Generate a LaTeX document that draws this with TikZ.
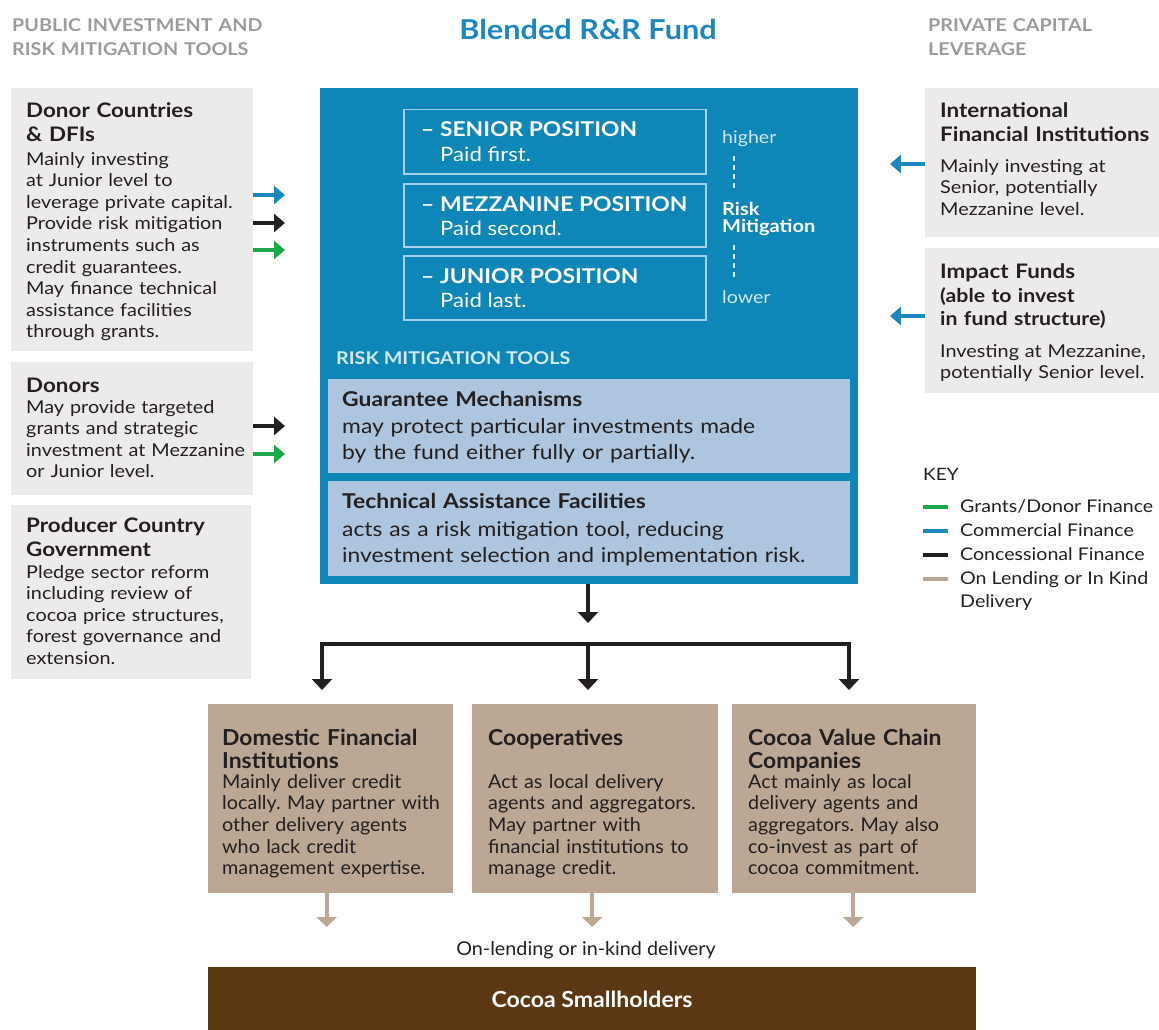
\documentclass[tikz,border=0pt]{standalone}
\usepackage{fontspec}
\setmainfont{Lato}[FakeStretch=1.12]
\newfontfamily\condf{Lato}[FakeStretch=1.04]
\usetikzlibrary{arrows.meta}
\frenchspacing
\definecolor{greybox}{HTML}{ECEBEA}
\definecolor{hdrgrey}{HTML}{9B9B9B}
\definecolor{fundblue}{HTML}{0E86B8}
\definecolor{titleblue}{HTML}{1A87C0}
\definecolor{lightblue}{HTML}{ADC5DE}
\definecolor{posline}{HTML}{A9D0E6}
\definecolor{paleblue}{HTML}{D2E8F3}
\definecolor{tanbox}{HTML}{BBA794}
\definecolor{tanarr}{HTML}{BBA794}
\definecolor{brown}{HTML}{5C3713}
\definecolor{darktxt}{HTML}{231F20}
\definecolor{arrblue}{HTML}{1B87BF}
\definecolor{arrgreen}{HTML}{19A84B}
\newcommand\HeadF{\fontsize{20}{24}\selectfont\bfseries}
\newcommand\SubHeadF{\fontsize{19}{23}\selectfont\bfseries}
\newcommand\BodyF{\fontsize{17.7}{21.6}\selectfont}
\newcommand\TopF{\fontsize{17.6}{24}\selectfont\bfseries}
\newcommand\CondHeadF{\condf\fontsize{22}{23}\selectfont\bfseries}
\newcommand\CondBodyF{\condf\fontsize{19}{21.7}\selectfont}
\newcommand\BlueBodyF{\fontsize{20.4}{26}\selectfont}
\begin{document}
\begin{tikzpicture}[x=1pt,y=-1pt,
  box/.style={rectangle, inner sep=0pt, anchor=north west, draw=none},
  txt/.style={anchor=base west, inner sep=0pt, align=left, text width=#1, text=darktxt},
  txt/.default=230pt,
  arrowbase/.style={line width=4pt},
  lblue/.style={arrowbase, draw=arrblue, -{Triangle[width=18pt,length=11pt]}},
  lblack/.style={arrowbase, draw=darktxt, -{Triangle[width=18pt,length=11pt]}},
  lgreen/.style={arrowbase, draw=arrgreen, -{Triangle[width=18pt,length=11pt]}},
  blkline/.style={line width=4pt, draw=darktxt},
  blkarrow/.style={line width=4pt, draw=darktxt, -{Triangle[width=20pt,length=11pt]}},
  tanarrow/.style={line width=4pt, draw=tanarr, -{Triangle[width=20pt,length=10pt]}},
  keyline/.style={line width=4pt}
]
\useasboundingbox (0,0) rectangle (1159,1030);

% ---------- headers ----------
\node[txt=300pt, text=hdrgrey, font=\TopF] (hdrL) at (12,32) {PUBLIC INVESTMENT AND\\RISK MITIGATION TOOLS};
\node[anchor=base, inner sep=0pt, text=titleblue, font=\fontsize{27.4}{30}\selectfont\bfseries] (title) at (588,40) {Blended R\&R Fund};
\node[txt=220pt, text=hdrgrey, font=\TopF] (hdrR) at (928,32) {PRIVATE CAPITAL\\LEVERAGE};

% ---------- left boxes ----------
\node[box, fill=greybox, minimum width=242pt, minimum height=263pt] (donorbox) at (11,88) {};
\node[txt, font=\HeadF] (donorhd) at (26,118) {Donor Countries\\\& DFIs};
\node[txt, font=\BodyF] (donorbd) at (26,165) {Mainly investing\\at Junior level to\\leverage private capital.\\Provide risk mitigation\\instruments such as\\credit guarantees.\\May finance technical\\assistance facilities\\through grants.};

\node[box, fill=greybox, minimum width=242pt, minimum height=133pt] (donors) at (11,362) {};
\node[txt, font=\HeadF] (donorshd) at (26,392) {Donors};
\node[txt, font=\BodyF] (donorsbd) at (26,413) {May provide targeted\\grants and strategic\\investment at Mezzanine\\or Junior level.};

\node[box, fill=greybox, minimum width=240pt, minimum height=174pt] (gov) at (11,505) {};
\node[txt, font=\HeadF] (govhd) at (26,532) {Producer Country\\Government};
\node[txt, font=\BodyF] (govbd) at (26,578) {Pledge sector reform\\including review of\\cocoa price structures,\\forest governance and\\extension.};

% ---------- right boxes ----------
\node[box, fill=greybox, minimum width=234pt, minimum height=149pt] (ifi) at (925,88) {};
\node[txt=218pt, font=\HeadF] (ifihd) at (940,118) {International\\Financial Institutions};
\node[txt=218pt, font=\BodyF] (ifibd) at (940,172) {Mainly investing at\\Senior, potentially\\Mezzanine level.};

\node[box, fill=greybox, minimum width=234pt, minimum height=145pt] (impact) at (925,248) {};
\node[txt=218pt, font=\HeadF] (imphd) at (940,278) {Impact Funds};
\node[txt=218pt, font=\SubHeadF] (impsub) at (940,302) {(able to invest\\in fund structure)};
\node[txt=218pt, font=\BodyF] (impbd) at (940,357) {Investing at Mezzanine,\\potentially Senior level.};

% ---------- fund box ----------
\node[box, fill=fundblue, minimum width=538pt, minimum height=496pt] (fund) at (320,88) {};
\node[box, draw=posline, line width=1.5pt, minimum width=302pt, minimum height=64pt] (senior) at (403,109) {};
\node[box, draw=posline, line width=1.5pt, minimum width=302pt, minimum height=63pt] (mezz) at (403,183) {};
\node[box, draw=posline, line width=1.5pt, minimum width=302pt, minimum height=64pt] (junior) at (403,255) {};
\foreach \nm/\yy/\lab/\pd in {senior/137/SENIOR POSITION/first, mezz/211/MEZZANINE POSITION/second, junior/283/JUNIOR POSITION/last}{
  \node[anchor=base west, inner sep=0pt, text=white, font=\fontsize{20.4}{24}\selectfont\bfseries] (\nm lab) at (421,\yy) {– \lab};
  \node[anchor=base west, inner sep=0pt, text=white, font=\fontsize{19.8}{24}\selectfont] (\nm pd) at (440,\yy+24) {Paid \pd.};
}
\node[anchor=base west, inner sep=0pt, text=paleblue, font=\fontsize{17.5}{21}\selectfont] (higher) at (722,143) {higher};
\node[txt=120pt, text=white, font=\fontsize{17.9}{17}\selectfont\bfseries] (riskmit) at (722,215) {Risk\\Mitigation};
\node[anchor=base west, inner sep=0pt, text=paleblue, font=\fontsize{17.5}{21}\selectfont] (lower) at (722,303) {lower};
\draw[paleblue, line width=1.5pt, dash pattern=on 5pt off 4pt] (734,156) -- (734,190);
\draw[paleblue, line width=1.5pt, dash pattern=on 5pt off 4pt] (734,245) -- (734,279);
\node[anchor=base west, inner sep=0pt, text=paleblue, font=\fontsize{17.6}{20}\selectfont\bfseries] (rmt) at (336,364) {RISK MITIGATION TOOLS};

\node[box, fill=lightblue, minimum width=522pt, minimum height=94pt] (guar) at (328,379) {};
\node[txt=505pt, font=\fontsize{20.4}{26}\selectfont\bfseries] (guarhd) at (342,406) {Guarantee Mechanisms};
\node[txt=505pt, font=\BlueBodyF] (guarbd) at (342,433) {may protect particular investments made\\by the fund either fully or partially.};
\node[box, fill=lightblue, minimum width=522pt, minimum height=95pt] (tafac) at (328,481) {};
\node[txt=505pt, font=\fontsize{20.4}{26}\selectfont\bfseries] (tahd) at (342,508) {Technical Assistance Facilities};
\node[txt=505pt, font=\BlueBodyF] (tabd) at (342,536) {acts as a risk mitigation tool, reducing\\investment selection and implementation risk.};

% ---------- bottom boxes ----------
\node[box, fill=tanbox, minimum width=245pt, minimum height=189pt] (dfi) at (208,704) {};
\node[txt=228pt, font=\CondHeadF] (dfihd) at (222,745) {Domestic Financial\\Institutions};
\node[txt=228pt, font=\CondBodyF] (dfibd) at (222,788) {Mainly deliver credit\\locally. May partner with\\other delivery agents\\who lack credit\\management expertise.};

\node[box, fill=tanbox, minimum width=246pt, minimum height=189pt] (coop) at (472,704) {};
\node[txt=228pt, font=\CondHeadF] (coophd) at (488,745) {Cooperatives};
\node[txt=228pt, font=\CondBodyF] (coopbd) at (488,788) {Act as local delivery\\agents and aggregators.\\May partner with\\financial institutions to\\manage credit.};

\node[box, fill=tanbox, minimum width=244pt, minimum height=189pt] (cvc) at (732,704) {};
\node[txt=228pt, font=\CondHeadF] (cvchd) at (748,745) {Cocoa Value Chain\\Companies};
\node[txt=228pt, font=\CondBodyF] (cvcbd) at (748,788) {Act mainly as local\\delivery agents and\\aggregators. May also\\co-invest as part of\\cocoa commitment.};

\node[box, fill=brown, minimum width=768pt, minimum height=63pt] (small) at (208,967) {};
\node[anchor=base, inner sep=0pt, text=white, font=\condf\fontsize{22.2}{24}\selectfont\bfseries] (smalllab) at (592,1007) {Cocoa Smallholders};
\node[anchor=base, inner sep=0pt, text=darktxt, font=\condf\fontsize{19}{20}\selectfont] (onlend) at (586,955) {On-lending or in-kind delivery};

% ---------- key ----------
\node[anchor=base west, inner sep=0pt, text=darktxt, font=\fontsize{17}{20}\selectfont] (key) at (923,480) {KEY};
\foreach \yy/\cc/\lab in {507/arrgreen/{Grants/Donor Finance}, 531/arrblue/{Commercial Finance}, 555/darktxt/{Concessional Finance}, 579/tanarr/{On Lending or In Kind}}{
  \draw[keyline, \cc] (923,\yy) -- (948,\yy);
  \node[anchor=base west, inner sep=0pt, text=darktxt, font=\fontsize{17.5}{21}\selectfont] at (960,\yy+5.5) {\lab};
}
\node[anchor=base west, inner sep=0pt, text=darktxt, font=\fontsize{17.5}{21}\selectfont] (keydel) at (960,607) {Delivery};

% ---------- connectors: left ----------
\coordinate (aB) at (285,195); \coordinate (aK) at (285,223); \coordinate (aG) at (285,250);
\draw[lblue] (donorbox.east |- aB) -- (aB);
\draw[lblack] (donorbox.east |- aK) -- (aK);
\draw[lgreen] (donorbox.east |- aG) -- (aG);
\coordinate (dK) at (285,426); \coordinate (dG) at (285,454);
\draw[lblack] (donors.east |- dK) -- (dK);
\draw[lgreen] (donors.east |- dG) -- (dG);

% ---------- connectors: right ----------
\coordinate (rI) at (890,164); \coordinate (rF) at (890,316);
\draw[lblue] (ifi.west |- rI) -- (rI);
\draw[lblue] (impact.west |- rF) -- (rF);

% ---------- connectors: fund to delivery ----------
\coordinate (jL) at (322,644); \coordinate (jC) at (588,644); \coordinate (jR) at (849,644);
\draw[blkarrow] (fund.south -| jC) -- (588,623);
\draw[blkline, line cap=rect] (jL) -- (jR);
\draw[blkarrow, shorten >=14pt] (jL) -- (jL |- dfi.north);
\draw[blkarrow, shorten >=14pt] (jC) -- (jC |- coop.north);
\draw[blkarrow, shorten >=14pt] (jR) -- (jR |- cvc.north);

% ---------- connectors: delivery to smallholders ----------
\draw[tanarrow, shorten >=40pt] ([xshift=-4pt]dfi.south) -- ([xshift=-4pt]dfi.south |- small.north);
\draw[tanarrow, shorten >=40pt] ([xshift=-3pt]coop.south) -- ([xshift=-3pt]coop.south |- small.north);
\draw[tanarrow, shorten >=40pt] ([xshift=-1pt]cvc.south) -- ([xshift=-1pt]cvc.south |- small.north);
\end{tikzpicture}
\end{document}
